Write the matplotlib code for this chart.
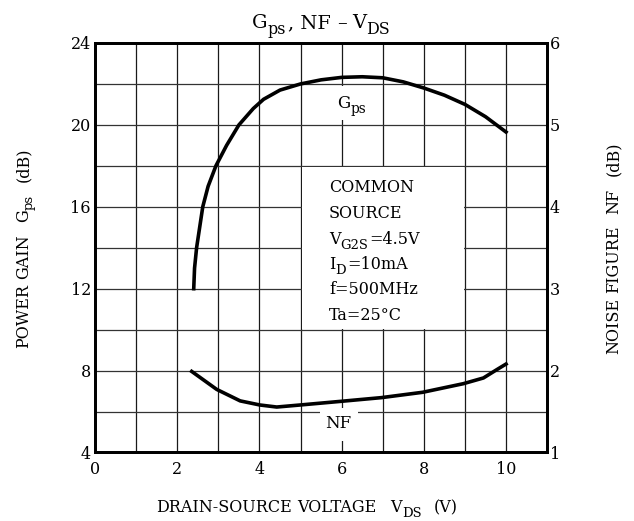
import matplotlib.pyplot as plt
from matplotlib.patches import Rectangle
from matplotlib.transforms import IdentityTransform

plt.rcParams['font.family'] = 'DejaVu Serif'

# Gps curve (dB, left axis)
vds_gps = [2.40, 2.42, 2.47, 2.62, 2.75, 2.94, 3.2, 3.5, 3.85, 4.1, 4.5, 5.0, 5.5, 6.0, 6.5, 7.0, 7.5, 8.0, 8.5, 9.0, 9.5, 10.0]
gps = [12.0, 13.0, 14.0, 16.0, 17.0, 18.0, 19.0, 20.0, 20.8, 21.25, 21.7, 22.0, 22.2, 22.32, 22.35, 22.3, 22.1, 21.8, 21.45, 21.0, 20.4, 19.65]

# NF curve (dB, right axis)
vds_nf = [2.35, 2.96, 3.53, 4.01, 4.42, 4.99, 5.99, 6.97, 7.97, 8.96, 9.45, 9.77, 10.0]
nf = [1.99, 1.77, 1.63, 1.58, 1.555, 1.58, 1.625, 1.67, 1.735, 1.84, 1.91, 2.01, 2.08]

# text pieces: '_' prefix = subscript, number = gap in pixels
cond = [['COMMON'], ['SOURCE'], ['V', '_G2S', 1, '=4.5V'], ['I', '_D', 1, '=10mA'], ['f=500MHz'], ['Ta=25°C']]

fig = plt.figure(figsize=(6.34, 5.21), dpi=100)
H = 521
ax = fig.add_axes([0.150, 0.1315, 0.713, 0.786])
ax2 = ax.twinx()

ax.set_xlim(0, 11)
ax.set_ylim(4, 24)
ax2.set_ylim(1, 6)

renderer = fig.canvas.get_renderer()


def put(parts, x, y, size, ha='center', rot=0):
    # x, y in pixels from the top-left, on the baseline
    y = H - y
    arts = []
    for p in parts:
        if isinstance(p, (int, float)):
            arts.append((None, p, False))
            continue
        sub = p.startswith('_')
        s = p[1:] if sub else p
        t = fig.text(0, 0, s, fontsize=size * (0.82 if sub else 1.0),
                     transform=IdentityTransform(), ha='left', va='baseline',
                     rotation=rot, rotation_mode='anchor', zorder=6)
        e = t.get_window_extent(renderer)
        arts.append((t, e.width if rot == 0 else e.height, sub))
    total = sum(a[1] for a in arts)
    pos = -total / 2 if ha == 'center' else 0
    drop = size * 0.32 * 100 / 72
    for t, L, sub in arts:
        if t is not None:
            d = drop if sub else 0
            if rot == 0:
                t.set_position((x + pos, y - d))
            else:
                t.set_position((x + d, y + pos))
        pos += L


# grid
for x in range(1, 11):
    ax.axvline(x, color='#1a1a1a', lw=0.9, zorder=1)
for y in range(6, 24, 2):
    ax.axhline(y, color='#333333', lw=0.9, zorder=1)

# white areas behind labels
ax.add_patch(Rectangle((5.03, 10.05), 3.94, 7.9, facecolor='white', edgecolor='none', zorder=2))
ax.add_patch(Rectangle((5.8, 20.25), 0.85, 1.65, facecolor='white', edgecolor='none', zorder=2))
ax.add_patch(Rectangle((5.47, 4.55), 0.93, 1.6, facecolor='white', edgecolor='none', zorder=2))

ax.plot(vds_gps, gps, color='black', lw=2.6, zorder=4)
ax2.plot(vds_nf, nf, color='black', lw=2.6, zorder=4)

ax.set_xticks(range(0, 11, 2))
ax.set_yticks(range(4, 25, 4))
ax2.set_yticks(range(1, 7))
ax.tick_params(axis='x', length=0, pad=6, labelsize=11.5)
ax.tick_params(axis='y', length=0, pad=3, labelsize=11.5)
ax2.tick_params(length=0, pad=2, labelsize=11.5)
for a in (ax, ax2):
    for s in a.spines.values():
        s.set_linewidth(2)

# labels on the curves and the conditions box
put(['G', '_ps'], 352, 108, 12)
put(['NF'], 338, 428, 12)
for i, line in enumerate(cond):
    put(line, 329, 192.5 + i * 25.5, 11.5, ha='left')

put(['G', '_ps', 2, ', NF', 6, '\u2013', 6, 'V', '_DS'], 321, 28, 14)
put(['DRAIN-SOURCE', 5, 'VOLTAGE', 14, 'V', '_DS', 12, '(V)'], 307, 512, 11.5)
put(['POWER', 5, 'GAIN', 12, 'G', '_ps', 12, '(dB)'], 28, 248, 11.5, rot=90)
put(['NOISE', 5, 'FIGURE', 12, 'NF', 12, '(dB)'], 618, 248, 11.5, rot=90)

fig.savefig('out.png', dpi=100)
